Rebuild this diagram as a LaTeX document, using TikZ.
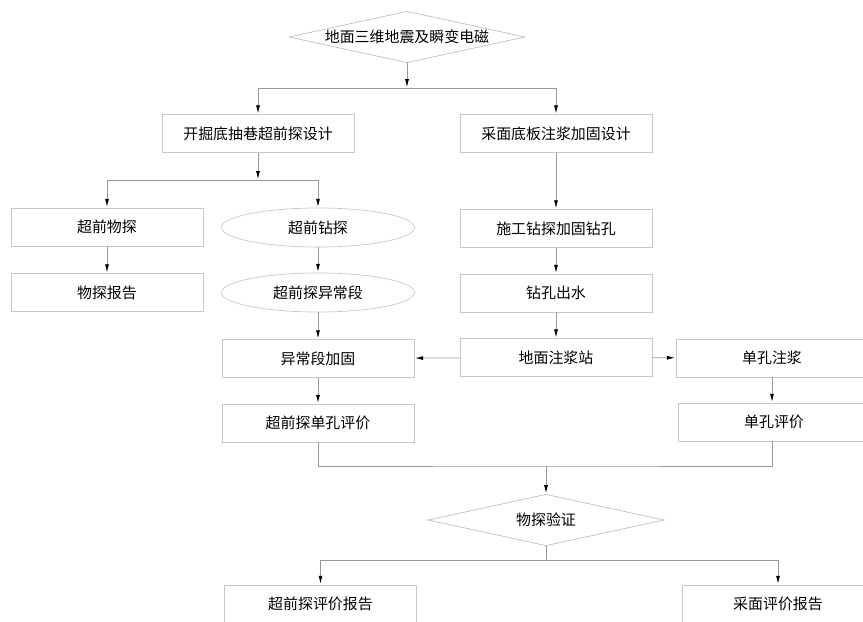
\documentclass[tikz,border=0pt]{standalone}
\usepackage{fontspec}
\newfontfamily\cjk{Noto Sans CJK SC}
\usetikzlibrary{arrows.meta,shapes.geometric}

\begin{document}
\begin{tikzpicture}[
		every node/.style={font=\cjk\fontsize{8.5}{10}\selectfont, inner sep=0pt},
		box/.style={draw=black!22, minimum width=3.84cm, minimum height=0.76cm},
		oval/.style={ellipse, draw=black!22, minimum width=3.86cm, minimum height=0.78cm},
		check/.style={diamond, draw=black!25, aspect=4.6, minimum width=4.72cm, minimum height=1.03cm},
		line/.style={draw=black!40},
		flow/.style={line, -{Latex[length=1.6mm,width=0.8mm,color=black]}, shorten >=0.5pt},
	]
		\useasboundingbox (0,0) rectangle (17.26,-12.44);
		\clip (0,0) rectangle (17.26,-12.44);

		\node[check] (survey) at (8.14,-0.74) {地面三维地震及瞬变电磁};

		\node[box] (tunnel) at (5.16,-2.67) {开掘底抽巷超前探设计};
		\node[box] (face) at (11.12,-2.67) {采面底板注浆加固设计};

		\node[box] (geo) at (2.14,-4.54) {超前物探};
		\node[box] (georep) at (2.14,-5.85) {物探报告};
		\node[oval] (drill) at (6.36,-4.55) {超前钻探};
		\node[oval] (anomaly) at (6.36,-5.85) {超前探异常段};
		\node[box] (fix) at (6.36,-7.17) {异常段加固};
		\node[box] (holeval) at (6.36,-8.46) {超前探单孔评价};

		\node[box] (bore) at (11.12,-4.57) {施工钻探加固钻孔};
		\node[box] (water) at (11.12,-5.86) {钻孔出水};
		\node[box] (station) at (11.12,-7.15) {地面注浆站};

		\node[box] (grout) at (15.44,-7.16) {单孔注浆};
		\node[box] (singleval) at (15.48,-8.44) {单孔评价};

		\node[check] (verify) at (10.92,-10.40) {物探验证};

		\node[box] (tunnelrep) at (6.41,-12.08) {超前探评价报告};
		\node[box] (facerep) at (15.56,-12.08) {采面评价报告};

		\coordinate (split) at (8.14,-1.76);
		\coordinate (branch) at (5.16,-3.60);
		\coordinate (merge) at (10.92,-9.32);
		\coordinate (report) at (10.92,-11.20);

		\draw[flow] (survey) -- (split);
		\draw[flow] (split) -| (tunnel);
		\draw[flow] (split) -| (face);

		\draw[flow] (tunnel) -- (branch);
		\draw[flow] (branch) -| (geo);
		\draw[flow] (branch) -| (drill);
		\draw[flow] (geo) -- (georep);
		\draw[flow] (drill) -- (anomaly);
		\draw[flow] (anomaly) -- (fix);
		\draw[flow] (fix) -- (holeval);

		\draw[flow] (face) -- (bore);
		\draw[flow] (bore) -- (water);
		\draw[flow] (water) -- (station);
		\draw[flow] (station) -- (fix);
		\draw[flow] (station) -- (grout);
		\draw[flow] (grout.south -| 15.44,0) -- (singleval.north -| 15.44,0);

		\draw[line] (holeval) |- (merge) -| (singleval.south -| 15.44,0);
		\draw[flow] (merge) -- (verify);
		\draw[line] (verify) -- (report);
		\draw[flow] (report) -| (tunnelrep);
		\draw[flow] (report) -| (facerep);
	\end{tikzpicture}
\end{document}
